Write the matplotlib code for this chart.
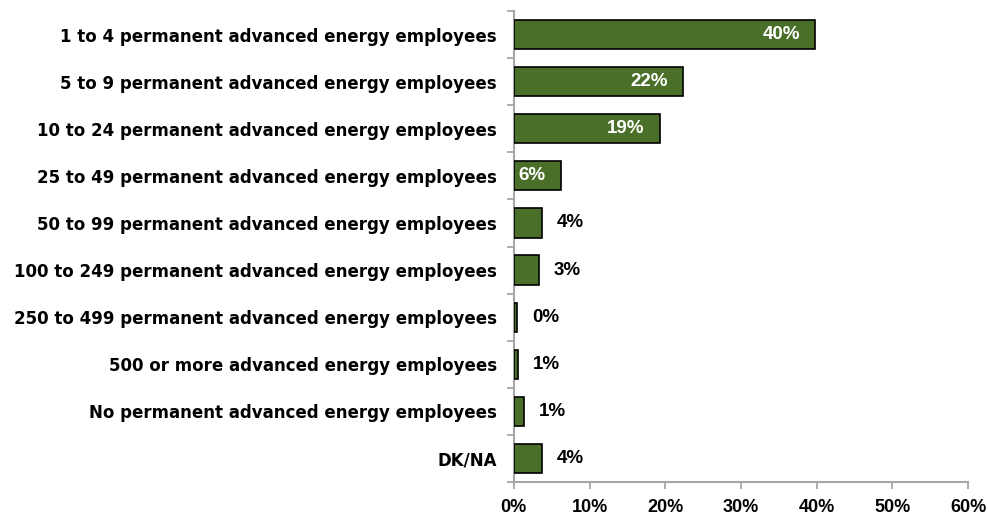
import matplotlib
matplotlib.use("Agg")
import matplotlib.pyplot as plt
import numpy as np
from matplotlib.ticker import FixedLocator, PercentFormatter

categories = [
    "1 to 4 permanent advanced energy employees",
    "5 to 9 permanent advanced energy employees",
    "10 to 24 permanent advanced energy employees",
    "25 to 49 permanent advanced energy employees",
    "50 to 99 permanent advanced energy employees",
    "100 to 249 permanent advanced energy employees",
    "250 to 499 permanent advanced energy employees",
    "500 or more advanced energy employees",
    "No permanent advanced energy employees",
    "DK/NA",
]
values = [39.8, 22.4, 19.3, 6.2, 3.7, 3.3, 0.45, 0.5, 1.3, 3.7]
labels = ["40%", "22%", "19%", "6%", "4%", "3%", "0%", "1%", "1%", "4%"]
xticks = [0, 10, 20, 30, 40, 50, 60]

plt.rcParams['font.family'] = ['Liberation Sans', 'DejaVu Sans']
plt.rcParams['font.weight'] = 'bold'

fig = plt.figure(figsize=(9.88, 5.17), dpi=100)
ax = fig.add_axes([0.520, 0.0677, 0.460, 0.911])

green = "#4a6f28"
grey = "#a6a6a6"
y = np.arange(len(categories))
ax.barh(y, values, height=0.62, color=green, edgecolor="black", linewidth=1.2, zorder=3)

for yi, v, lab in zip(y, values, labels):
    if v >= 5:
        ax.text(v - 2.0, yi, lab, color="white", ha="right", va="center",
                fontsize=13.5, fontweight="bold")
    else:
        ax.text(v + 2.0, yi, lab, color="black", ha="left", va="center",
                fontsize=13.5, fontweight="bold")

ax.set_xlim(0, 60)
ax.set_ylim(len(categories) - 0.5, -0.5)

ax.xaxis.set_major_locator(FixedLocator(xticks))
ax.xaxis.set_major_formatter(PercentFormatter(decimals=0))
ax.tick_params(axis='x', direction='out', length=5, width=1.3, color=grey,
               labelsize=13, pad=7)
for t in ax.get_xticklabels():
    t.set_fontweight('bold')

ax.yaxis.set_major_locator(FixedLocator(np.arange(-0.5, len(categories), 1.0)))
ax.yaxis.set_minor_locator(FixedLocator(y))
ax.set_yticklabels([], minor=False)
ax.set_yticklabels(categories, minor=True)
ax.tick_params(axis='y', which='major', direction='out', length=5, width=1.3, color=grey)
ax.tick_params(axis='y', which='minor', length=0, labelsize=12, pad=12)
for t in ax.get_yticklabels(minor=True):
    t.set_fontweight('bold')
    t.set_family('DejaVu Sans')

for s in ['top', 'right']:
    ax.spines[s].set_visible(False)
for s in ['left', 'bottom']:
    ax.spines[s].set_color(grey)
    ax.spines[s].set_linewidth(1.5)

fig.savefig("out.png", dpi=100)
